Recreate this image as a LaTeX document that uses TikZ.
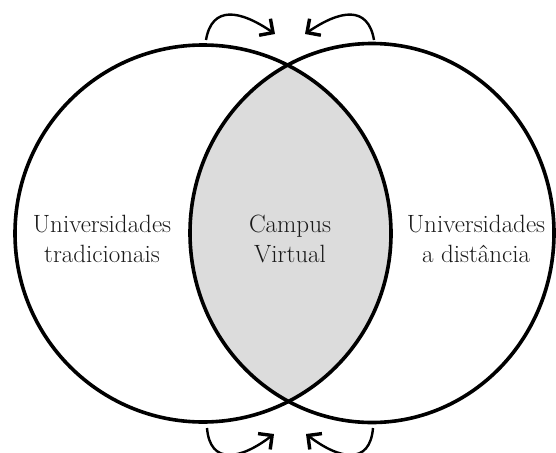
\documentclass[tikz,border=0pt]{standalone}
\usetikzlibrary{arrows.meta,shapes.geometric}
\definecolor{lensgray}{HTML}{DCDCDC}
\definecolor{txtgray}{HTML}{1A1A1A}
\tikzset{
  ring/.style={ellipse, draw=black, line width=3.6pt, inner sep=0pt},
  lbl/.style={align=center, text=txtgray, font=\fontsize{25}{30}\selectfont},
  bent/.style={line width=2.4pt, -{Straight Barb[length=10pt,width=20pt,line width=3.4pt]}}
}
\begin{document}
\begin{tikzpicture}[x=1pt,y=-1pt]
\useasboundingbox (0,0) rectangle (556,452);
\begin{scope}
  \clip (203,233.5) ellipse [x radius=188pt, y radius=188.5pt];
  \fill[lensgray] (372,233) ellipse [x radius=182pt, y radius=189.5pt];
\end{scope}
\node[ring, minimum width=376pt, minimum height=377pt] (L) at (203,233.5) {};
\node[ring, minimum width=364pt, minimum height=379pt] (R) at (372,233) {};
\node[lbl] (tl) at (102,239) {Universidades\\tradicionais};
\node[lbl] (tc) at (290,239) {Campus\\Virtual};
\node[lbl] (tr) at (476,239) {Universidades\\a distância};
\coordinate (a1) at (206,40);
\coordinate (a2) at (275,34);
\coordinate (b1) at (374,40);
\coordinate (b2) at (305,34);
\coordinate (c1) at (207,428);
\coordinate (c2) at (274,434);
\coordinate (d1) at (373,428);
\coordinate (d2) at (306,434);
\draw[bent] (a1) .. controls (212,5) and (240,10) .. (a2);
\draw[bent] (b1) .. controls (368,5) and (340,10) .. (b2);
\draw[bent] (c1) .. controls (210,465) and (240,460) .. (c2);
\draw[bent] (d1) .. controls (370,465) and (340,460) .. (d2);
\end{tikzpicture}
\end{document}
